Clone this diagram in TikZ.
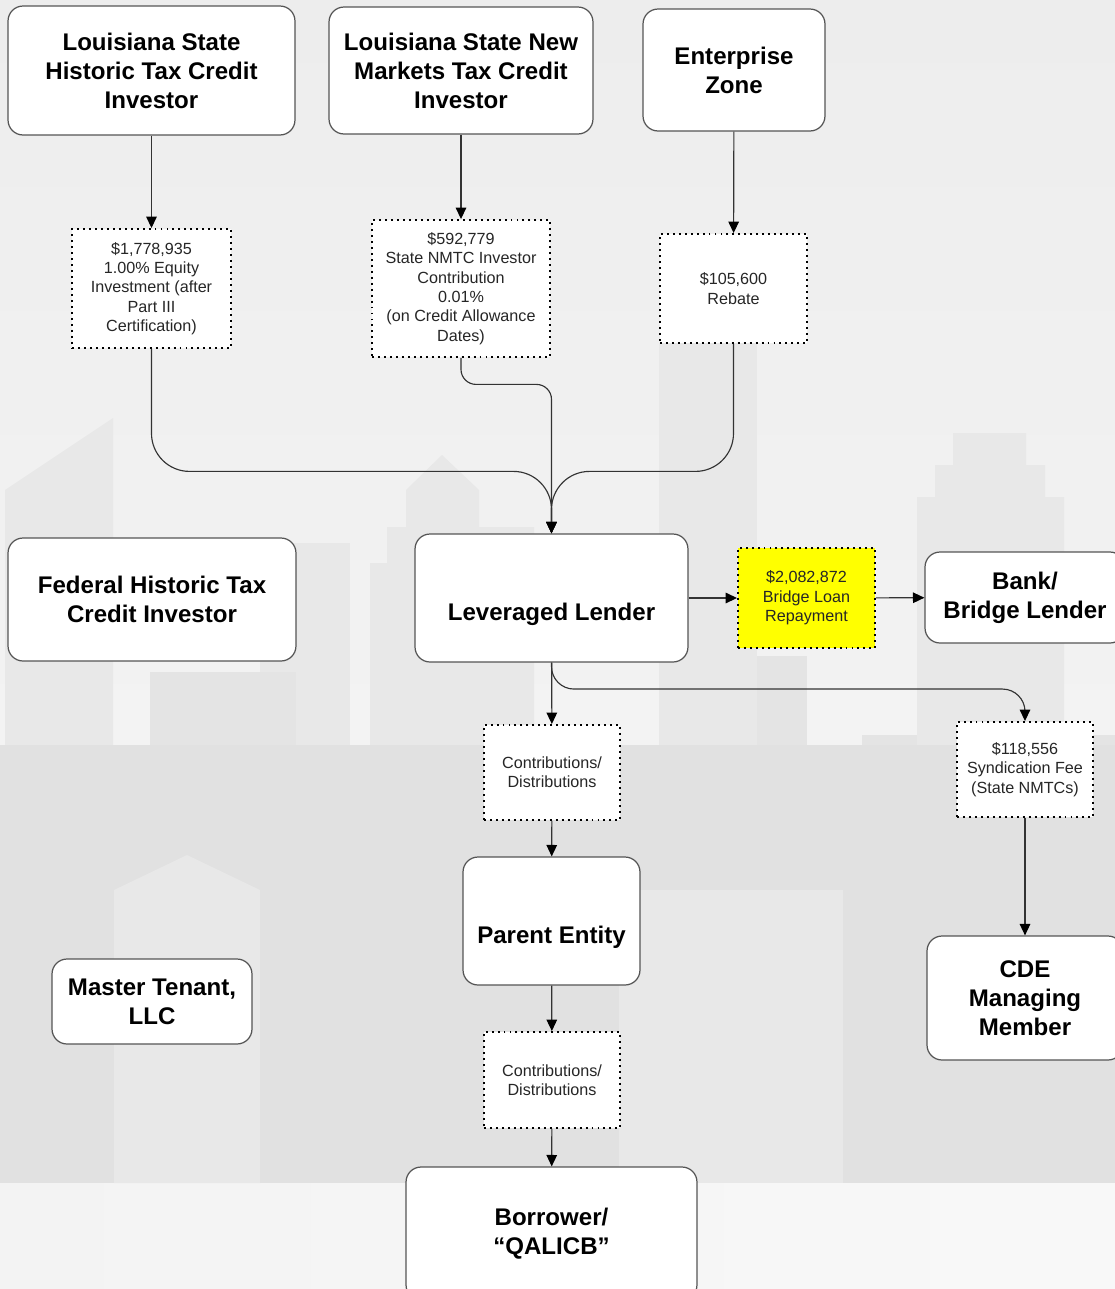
\documentclass[tikz,border=0pt]{standalone}
\usepackage{fontspec}
\setmainfont{Liberation Sans}
\usepackage{tikz}
\usetikzlibrary{arrows.meta,calc}

\definecolor{linegray}{HTML}{333333}
\definecolor{boxgray}{HTML}{555555}
\definecolor{skytop}{HTML}{EDEDED}
\definecolor{skylow}{HTML}{F3F3F3}
\definecolor{bldg}{HTML}{E8E8E8}
\definecolor{bldgdark}{HTML}{E4E4E4}
\definecolor{ground}{HTML}{E1E1E1}
\definecolor{street}{HTML}{F4F4F4}
\definecolor{hilite}{HTML}{FFFF00}

\tikzset{
  party/.style={draw=boxgray, line width=0.7pt, fill=white, rounded corners=0.3cm,
    align=center, inner sep=2pt, font=\fontsize{13.7}{16.5}\selectfont\bfseries},
  amount/.style={draw=black, line width=1.1pt, dash pattern=on 1.1pt off 2.3pt,
    fill=white, align=center, inner sep=2pt, text=black!85,
    font=\fontsize{9.2}{11}\selectfont},
  conn/.style={draw=linegray, line width=0.65pt,
    -{Triangle[length=6.5pt,width=6pt,color=black]}}
}

\begin{document}
\begin{tikzpicture}[x=0.02cm, y=-0.02cm]
	\useasboundingbox (0,0) rectangle (1115,1289);
	\clip (0,0) rectangle (1115,1289);

	% Background skyline
	\shade[top color=skytop, bottom color=skylow] (0,0) rectangle (1115,745);
	\fill[ground] (0,745) rectangle (1115,1183);
	\shade[left color=skylow, right color=street!60!white] (0,1183) rectangle (1115,1289);
	\fill[bldg] (5,490) -- (113,418) -- (113,745) -- (5,745) -- cycle;
	\fill[bldg] (260,543) rectangle (350,745);
	\fill[bldgdark] (150,672) rectangle (296,745);
	\fill[bldg] (370,563) -- (387,563) -- (387,527) -- (406,527) -- (406,490)
		-- (442,455) -- (479,490) -- (479,527) -- (534,527) -- (534,745) -- (370,745) -- cycle;
	\fill[bldg] (659,343) rectangle (757,745);
	\fill[bldgdark] (757,656) rectangle (807,745);
	\fill[bldgdark] (862,735) rectangle (1115,745);
	\fill[bldg] (917,745) -- (917,497) -- (935,497) -- (935,465) -- (953,465) -- (953,433)
		-- (1026,433) -- (1026,465) -- (1045,465) -- (1045,497) -- (1064,497) -- (1064,745) -- cycle;
	\fill[bldg] (114,890) -- (187,855) -- (260,890) -- (260,1183) -- (114,1183) -- cycle;
	\fill[bldg] (619,890) rectangle (843,1183);

	% Parties
	\node[party, minimum width=5.74cm, minimum height=2.58cm] (lshtc) at (151.5,70.5)
		{Louisiana State\\Historic Tax Credit\\Investor};
	\node[party, minimum width=5.28cm, minimum height=2.54cm] (lsnm) at (461,70.5)
		{Louisiana State New\\Markets Tax Credit\\Investor};
	\node[party, minimum width=3.64cm, minimum height=2.44cm] (ez) at (734,70)
		{Enterprise\\Zone};
	\node[party, minimum width=5.76cm, minimum height=2.46cm] (fhtc) at (152,599.5)
		{Federal Historic Tax\\Credit Investor};
	\node[party, minimum width=5.46cm, minimum height=2.56cm] (ll) at (551.5,598)
		{\strut\\Leveraged Lender};
	\node[party, minimum width=4.00cm, minimum height=1.82cm] (bank) at (1025,597.5)
		{Bank/\\Bridge Lender};
	\node[party, minimum width=3.54cm, minimum height=2.56cm] (pe) at (551.5,921)
		{\strut\\Parent Entity};
	\node[party, minimum width=3.92cm, minimum height=2.48cm] (cde) at (1025,998)
		{CDE\\Managing\\Member};
	\node[party, minimum width=4.00cm, minimum height=1.70cm] (mt) at (152,1001.5)
		{Master Tenant,\\LLC};
	\node[party, minimum width=5.82cm, minimum height=2.66cm] (bor) at (551.5,1233.5)
		{Borrower/\\``QALICB''};

	% Amounts
	\node[amount, minimum width=3.18cm, minimum height=2.38cm] (hteq) at (151.5,288.5)
		{\$1,778,935\\1.00\% Equity\\Investment (after\\Part III\\Certification)};
	\node[amount, minimum width=3.56cm, minimum height=2.74cm] (nmeq) at (461,288.5)
		{\$592,779\\State NMTC Investor\\Contribution\\0.01\%\\(on Credit Allowance\\Dates)};
	\node[amount, minimum width=2.94cm, minimum height=2.18cm] (rebate) at (733.5,288.5)
		{\$105,600\\Rebate};
	\node[amount, fill=hilite, minimum width=2.74cm, minimum height=2.00cm] (bridge) at (806.5,598)
		{\$2,082,872\\Bridge Loan\\Repayment};
	\node[amount, minimum width=2.72cm, minimum height=1.90cm] (cd1) at (552,772.5)
		{Contributions/\\Distributions};
	\node[amount, minimum width=2.72cm, minimum height=1.90cm] (sf) at (1025,769.5)
		{\$118,556\\Syndication Fee\\(State NMTCs)};
	\node[amount, minimum width=2.72cm, minimum height=1.92cm] (cd2) at (552,1080)
		{Contributions/\\Distributions};

	% Connectors
	\draw[conn] (lshtc) -- (hteq);
	\draw[conn] (lsnm) -- (nmeq);
	\draw[conn] (ez) -- (rebate);
	\draw[conn, rounded corners=0.76cm] (hteq.south) |- ($(ll.north)+(0,-62)$) -- (ll.north);
	\draw[conn, rounded corners=0.76cm] (rebate.south) |- ($(ll.north)+(0,-62)$) -- (ll.north);
	\draw[conn, rounded corners=0.3cm] (nmeq.south) |- ($(ll.north)+(0,-149)$)
		[rounded corners=0.8cm] -- (ll.north);
	\draw[conn] (ll) -- (bridge);
	\draw[conn] (bridge) -- (bank);
	\draw[conn] (ll) -- (cd1);
	\draw[conn, rounded corners=0.45cm] (ll.south) |- ($(sf.north)+(0,-32)$) -- (sf.north);
	\draw[conn] (cd1) -- (pe);
	\draw[conn] (pe) -- (cd2);
	\draw[conn] (cd2) -- (bor);
	\draw[conn] (sf) -- (cde);
\end{tikzpicture}
\end{document}
